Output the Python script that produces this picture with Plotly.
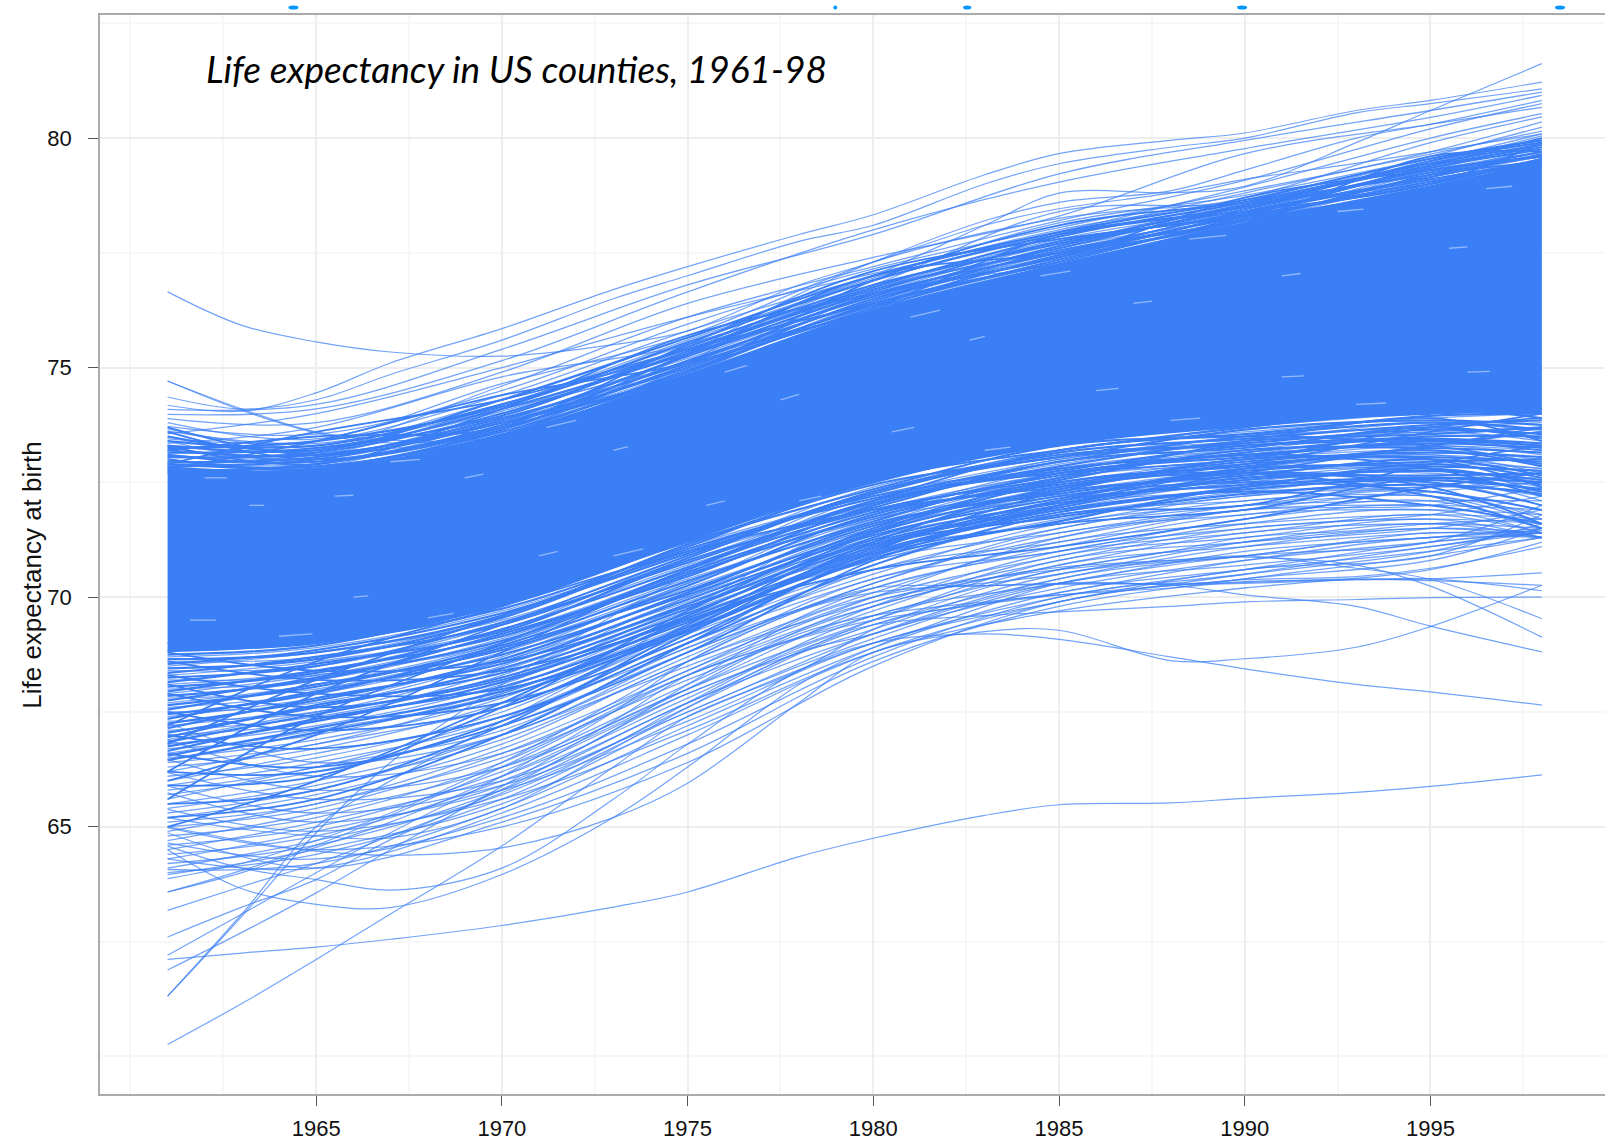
import plotly.graph_objects as go

YEARS = [1961, 1965, 1970, 1975, 1980, 1985, 1990, 1995, 1998]
YEARS_FINE = [1961, 1963, 1965, 1967, 1970, 1973, 1975, 1978, 1980, 1983, 1985, 1988, 1990, 1993, 1995, 1998]

CORE_UPPER = [72.85, 72.8, 73.55, 74.85, 76.25, 77.25, 78.15, 78.95, 79.45]
CORE_LOWER = [68.8, 69.0, 69.8, 71.2, 72.5, 73.3, 73.7, 74.0, 74.0]

OUTLIERS = [
    [62.11,62.25,62.38,62.55,62.85,63.25,63.58,64.35,64.75,65.25,65.48,65.52,65.62,65.75,65.88,66.13],
    [76.65,75.92,75.56,75.34,75.25,75.50,75.80,76.80,77.30,78.10,78.46,78.80,79.10,79.45,79.70,80.09],
    [60.26,61.15,62.11,63.10,64.58,66.30,67.40,68.40,69.30,70.20,70.60,71.00,71.30,71.45,71.60,71.70],
    [61.31,63.05,64.87,66.40,68.10,69.60,70.50,71.70,72.30,72.90,73.20,73.50,73.70,73.90,74.00,74.00],
    [61.31,63.10,65.00,66.00,67.30,68.60,69.70,71.10,71.70,72.40,72.70,73.00,73.10,73.40,73.40,73.30],
    [64.50,63.65,63.31,63.24,63.96,65.20,66.30,68.10,68.90,69.80,70.30,70.70,70.90,71.20,71.30,71.45],
    [64.58,64.10,63.85,63.62,64.10,65.60,66.80,68.40,69.00,69.20,69.08,68.70,68.44,68.10,67.94,67.65],
    [65.00,64.70,64.47,64.38,64.54,65.20,65.95,67.70,68.80,69.25,69.28,68.62,68.66,68.91,69.36,70.26],
    [62.20,63.10,64.00,64.87,66.10,67.50,68.60,69.70,70.20,70.25,70.30,70.26,70.05,69.80,69.37,68.81],
    [61.88,62.70,63.56,64.50,65.88,67.30,68.30,69.30,69.80,70.40,70.65,70.80,70.87,70.70,70.24,69.13],
    [62.60,63.25,63.85,64.72,65.81,67.10,68.10,69.50,70.00,70.40,70.60,70.80,70.90,70.63,70.39,69.53],
    [63.18,63.70,64.20,64.80,65.74,66.80,67.70,68.90,69.40,69.60,69.68,69.80,69.90,69.95,69.99,70.00],
    [63.58,64.00,64.55,65.10,66.10,67.20,68.00,69.20,69.60,69.90,70.05,70.20,70.34,70.38,70.40,70.53],
    [63.58,64.05,64.60,65.25,66.30,67.50,68.30,69.10,69.50,69.85,70.05,70.25,70.38,70.45,70.63,71.10],
    [65.20,64.95,64.80,64.76,65.40,66.70,67.60,68.80,69.20,69.95,70.30,70.28,70.30,70.38,70.40,70.14],
    [63.87,64.20,64.70,65.30,66.40,67.70,68.60,69.70,70.10,70.25,70.28,70.30,70.32,70.40,70.36,70.26],
    [74.71,74.10,73.60,73.42,73.50,74.30,75.10,76.40,77.00,78.10,78.80,78.81,78.95,79.90,80.60,81.62],
    [74.71,74.07,73.58,73.36,73.60,74.50,75.30,76.60,77.30,78.20,78.60,78.85,79.30,80.00,80.30,80.82],
    [74.18,74.05,74.45,75.10,75.85,76.70,77.20,77.90,78.33,79.20,79.66,79.95,80.11,80.60,80.82,81.22],
    [74.36,74.10,74.30,74.85,75.60,76.50,77.00,77.75,78.10,79.00,79.44,79.80,80.00,80.55,80.75,81.07],
]

UPPER_ZONE = [
    [74.09,74.20,75.40,76.80,77.90,79.22,79.95,80.60,81.00],
    [73.98,74.10,75.15,76.65,78.00,79.04,79.77,80.45,80.93],
    [73.89,73.80,74.90,76.40,77.40,78.30,79.66,80.30,80.67],
    [73.67,73.30,74.60,76.10,77.20,78.20,79.08,80.20,80.75],
    [73.56,74.00,75.00,76.10,77.05,77.95,78.93,80.00,80.53],
    [73.45,73.40,74.40,75.80,77.00,78.00,78.70,79.90,80.46],
    [73.35,73.70,74.80,75.50,76.90,77.90,78.80,79.70,80.35],
    [73.20,73.10,74.20,75.50,76.80,78.40,78.60,79.60,80.24],
    [73.05,73.20,74.30,75.30,76.70,77.80,78.50,79.50,80.09],
    [72.91,73.00,74.00,75.20,76.60,77.70,78.40,79.40,80.00],
    [73.30,73.30,74.10,75.10,76.50,77.60,78.30,79.30,79.90],
    [73.10,73.05,73.90,75.00,76.40,77.50,78.20,79.20,79.80],
    [73.50,73.15,73.80,75.25,76.55,77.45,78.45,79.30,79.70],
    [73.40,72.95,73.75,75.05,76.35,77.35,78.35,79.15,79.60],
    [72.95,72.90,73.70,74.95,76.30,77.30,78.25,79.05,79.55],
    [73.25,73.00,73.65,74.90,76.45,77.40,78.15,79.10,79.50],
    [72.85,73.10,73.60,75.15,76.25,77.65,78.55,79.00,79.45],
    [73.00,72.85,73.85,74.85,76.60,77.25,78.10,79.25,79.40],
    [73.62,73.35,74.20,75.60,76.95,78.15,78.75,79.55,79.95],
    [73.72,73.55,74.50,75.95,77.15,78.05,78.85,79.65,80.15],
    [73.80,73.45,74.65,75.70,77.30,78.25,78.65,79.45,80.05],
    [73.15,73.25,74.05,75.40,76.75,77.55,78.40,79.35,79.85],
]

NEAR_UPPER = [
    [72.70,72.80,73.60,74.85,76.25,77.25,78.15,78.95,79.45],
    [72.90,72.85,73.55,74.95,76.30,77.35,78.20,78.90,79.50],
    [72.75,72.90,73.70,74.90,76.40,77.30,78.25,79.05,79.45],
    [73.00,72.80,73.65,75.05,76.35,77.45,78.30,79.00,79.55],
    [72.85,73.00,73.80,75.00,76.50,77.40,78.35,79.10,79.50],
    [73.10,72.95,73.75,75.15,76.45,77.55,78.20,79.20,79.60],
    [72.95,73.05,73.90,75.10,76.60,77.50,78.40,79.15,79.65],
    [73.20,73.10,73.85,75.25,76.55,77.65,78.45,79.30,79.60],
    [73.05,73.15,74.00,75.35,76.70,77.60,78.50,79.25,79.70],
    [73.30,73.20,74.10,75.30,76.65,77.75,78.35,79.35,79.75],
    [73.15,73.25,73.95,75.45,76.80,77.70,78.55,79.40,79.80],
    [73.40,73.30,74.20,75.40,76.75,77.85,78.60,79.45,79.85],
    [73.25,73.40,74.15,75.55,76.90,77.90,78.50,79.50,79.90],
    [73.50,73.20,74.30,75.65,77.00,77.95,78.65,79.55,79.95],
]

CROSSING_UPPER = [
    [72.90,73.60,74.30,75.40,76.40,77.30,78.30,79.40,80.00],
    [73.60,73.00,73.70,75.50,77.10,77.80,78.30,79.00,79.50],
    [73.30,72.90,74.10,75.70,76.60,77.40,78.70,79.30,79.60],
    [72.80,73.40,74.40,75.10,76.30,77.90,78.40,79.00,79.90],
    [73.70,73.10,73.80,74.90,76.90,78.10,78.60,79.20,79.50],
    [73.20,73.50,73.70,75.30,77.00,77.50,78.20,79.60,79.70],
]

LOWER_ZONE = [
    [68.7,68.9,69.7,71.0,72.3,73.2,73.6,73.9,74.0],
    [68.6,68.7,69.6,71.1,72.2,73.0,73.5,73.7,73.8],
    [68.5,68.8,69.5,70.9,72.4,73.1,73.4,73.8,73.6],
    [68.4,68.5,69.4,70.8,72.1,72.9,73.4,73.6,73.7],
    [68.3,68.6,69.3,70.9,72.0,73.0,73.3,73.5,73.5],
    [68.2,68.3,69.2,70.6,72.2,72.8,73.2,73.6,73.4],
    [68.1,68.4,69.3,70.7,71.9,72.7,73.1,73.4,73.3],
    [68.0,68.2,69.1,70.5,71.8,72.8,73.2,73.3,73.2],
    [67.9,68.3,69.0,70.6,71.7,72.6,73.0,73.3,73.1],
    [67.8,68.0,68.9,70.3,71.9,72.5,73.0,73.2,73.0],
    [67.7,68.1,69.0,70.4,71.6,72.6,72.9,73.1,72.9],
    [67.6,67.9,68.8,70.2,71.5,72.4,72.9,73.0,72.8],
    [67.5,67.7,68.7,70.3,71.7,72.3,72.8,73.1,72.7],
    [67.4,67.8,68.6,70.1,71.4,72.5,72.7,72.9,72.6],
    [67.3,67.5,68.5,70.0,71.5,72.2,72.7,72.8,72.5],
    [67.2,67.6,68.6,69.9,71.3,72.3,72.6,72.9,72.8],
    [67.1,67.4,68.3,70.0,71.2,72.1,72.6,72.7,72.4],
    [67.0,67.3,68.4,69.8,71.3,72.0,72.5,72.8,72.3],
    [66.9,67.5,68.2,69.7,71.1,72.2,72.4,72.6,72.6],
    [66.8,67.2,68.1,69.8,71.0,71.9,72.5,72.5,72.2],
    [66.7,67.0,68.0,69.6,71.2,71.8,72.3,72.6,72.1],
    [66.6,67.1,67.9,69.5,70.9,72.0,72.3,72.4,72.5],
    [66.5,66.9,67.8,69.6,70.8,71.7,72.2,72.5,72.0],
    [66.4,66.8,67.9,69.4,71.0,71.6,72.2,72.3,71.9],
    [66.3,66.7,67.7,69.3,70.7,71.8,72.1,72.4,72.3],
    [66.2,66.8,67.6,69.2,70.6,71.5,72.1,72.2,71.8],
    [66.1,66.5,67.5,69.3,70.8,71.4,72.0,72.3,71.7],
    [66.0,66.6,67.4,69.1,70.5,71.6,72.0,72.1,72.1],
    [65.9,66.4,67.3,69.0,70.4,71.3,71.9,72.2,71.6],
    [65.8,66.3,67.4,68.9,70.6,71.2,71.9,72.0,71.9],
    [65.7,66.2,67.2,68.8,70.3,71.4,71.8,72.1,71.5],
    [65.6,66.3,67.1,68.9,70.2,71.1,71.8,71.9,71.8],
    [65.5,66.0,67.0,68.7,70.4,71.0,71.7,72.0,71.5],
    [65.4,65.9,66.9,68.6,70.1,71.2,71.6,71.8,71.7],
    [65.3,65.8,67.0,68.5,70.0,70.9,71.6,71.9,71.4],
    [65.2,65.7,66.8,68.6,69.9,70.8,71.5,71.7,71.6],
    [65.1,65.5,66.7,68.4,70.2,71.0,71.4,71.8,71.4],
    [65.0,65.4,66.6,68.3,69.8,70.7,71.4,71.6,71.5],
    [64.9,65.5,66.5,68.2,69.7,70.9,71.3,71.7,71.3],
    [64.8,65.2,66.4,68.3,69.6,70.6,71.2,71.5,71.4],
    [64.7,65.3,66.3,68.1,69.9,70.5,71.2,71.6,71.3],
    [64.6,65.0,66.2,68.0,69.5,70.7,71.1,71.4,71.4],
    [64.5,65.1,66.1,67.9,69.4,70.4,71.1,71.5,71.3],
    [64.4,64.8,66.0,67.8,69.6,70.3,71.0,71.3,71.5],
    [64.3,64.9,65.9,67.9,69.3,70.5,70.9,71.4,71.3],
    [64.2,64.6,65.8,67.7,69.2,70.2,70.8,71.2,71.4],
    [64.1,64.7,65.7,67.6,69.4,70.1,70.8,71.3,71.3],
    [64.0,64.4,65.6,67.5,69.1,70.3,70.7,71.1,71.5],
    [63.96,64.5,65.5,67.4,69.0,70.0,70.6,71.2,71.4],
    [64.07,64.2,65.4,67.2,68.9,70.1,70.6,71.0,71.3],
    [64.30,64.1,65.3,67.0,68.8,69.9,70.5,71.1,71.4],
    [64.65,64.3,65.2,66.8,68.7,70.0,70.5,71.0,71.6],
    [64.87,64.1,65.1,66.6,68.6,69.8,70.4,70.9,71.3],
    [64.98,64.5,65.0,66.4,68.5,69.9,70.4,70.8,71.5],
    [65.38,64.9,65.6,67.1,68.8,69.7,70.2,70.6,71.2],
    [65.74,65.1,65.8,67.3,69.0,69.9,70.6,70.9,71.8],
    [65.89,65.3,65.9,67.5,69.2,70.4,70.9,71.2,72.0],
    [66.18,65.6,66.0,67.7,69.5,70.8,71.2,71.5,71.9],
    [66.47,65.8,66.3,68.0,69.8,71.0,71.5,71.8,72.2],
    [66.90,66.1,66.6,68.4,70.0,71.3,71.9,72.0,72.4],
    [67.26,66.4,67.0,68.8,70.3,71.5,72.0,72.3,72.5],
]

NEAR_LOWER = [
    [69.00,69.10,69.90,71.30,72.50,73.40,73.80,74.00,74.10],
    [68.85,69.00,69.75,71.10,72.55,73.20,73.70,74.10,73.90],
    [68.75,68.95,69.85,71.20,72.35,73.30,73.55,73.95,74.00],
    [68.65,68.80,69.60,71.15,72.45,73.05,73.65,73.85,73.75],
    [68.55,68.85,69.65,70.95,72.25,73.15,73.45,73.75,73.85],
    [68.45,68.65,69.55,71.05,72.15,72.95,73.50,73.80,73.65],
    [68.35,68.70,69.40,70.85,72.30,73.05,73.35,73.65,73.55],
    [68.25,68.50,69.45,70.75,72.05,72.85,73.40,73.55,73.70],
    [68.15,68.55,69.25,70.80,71.95,72.95,73.25,73.70,73.45],
    [68.05,68.35,69.30,70.65,72.10,72.75,73.30,73.45,73.35],
    [67.95,68.40,69.15,70.55,71.85,72.65,73.15,73.50,73.50],
    [67.85,68.20,69.20,70.45,72.00,72.80,73.10,73.35,73.25],
    [67.75,68.25,69.05,70.50,71.75,72.55,73.20,73.25,73.15],
    [67.65,68.05,68.95,70.35,71.65,72.70,73.05,73.40,73.30],
    [67.55,68.10,68.85,70.25,71.80,72.45,72.95,73.15,73.05],
    [67.45,67.90,68.90,70.15,71.55,72.35,73.00,73.05,72.95],
    [67.35,67.95,68.75,70.05,71.45,72.50,72.85,73.20,72.85],
    [67.25,67.75,68.65,70.10,71.60,72.25,72.75,72.95,73.00],
    [67.15,67.80,68.55,69.95,71.35,72.15,72.80,72.85,72.75],
    [67.05,67.60,68.45,69.85,71.40,72.30,72.65,73.00,72.65],
    [66.95,67.65,68.35,69.75,71.25,72.05,72.55,72.75,72.55],
    [66.85,67.45,68.25,69.65,71.15,71.95,72.60,72.65,72.70],
    [66.75,67.30,68.15,69.55,71.05,72.10,72.45,72.80,72.45],
    [66.65,67.35,68.05,69.45,70.95,71.85,72.35,72.55,72.35],
    [66.55,67.15,67.95,69.35,71.10,71.75,72.25,72.45,72.25],
    [66.45,67.05,67.85,69.25,70.85,71.65,72.40,72.60,72.50],
]

CROSSING_LOWER = [
    [66.2,67.9,69.4,70.9,72.3,73.1,73.3,73.4,73.2],
    [66.8,68.2,69.6,71.0,72.2,72.7,73.0,73.7,73.9],
    [67.2,68.6,69.8,71.0,71.9,72.4,72.9,73.6,74.0],
    [65.6,67.4,69.0,70.6,72.1,73.2,73.5,73.3,72.9],
    [66.0,67.0,68.8,70.6,71.9,72.6,73.4,73.9,73.4],
    [68.8,68.4,68.6,69.8,71.2,72.0,72.7,73.3,73.6],
    [68.6,68.2,68.4,69.5,71.0,71.9,72.4,72.9,72.6],
    [68.3,67.9,68.0,69.3,70.9,72.1,72.7,72.5,72.0],
    [67.9,67.4,67.7,69.1,71.0,72.3,72.9,73.0,72.4],
    [68.1,67.6,68.2,69.6,71.4,72.6,73.1,72.8,72.2],
    [67.5,67.1,67.6,69.4,71.3,72.2,72.5,72.3,71.9],
    [67.0,66.7,67.4,69.0,70.7,71.8,72.0,72.9,73.3],
    [66.6,66.3,67.2,68.8,70.8,72.0,72.8,73.3,73.7],
    [66.2,66.2,67.3,69.2,71.2,72.4,72.7,72.4,71.6],
    [65.9,66.1,67.6,69.7,71.5,72.5,72.7,72.2,71.5],
    [65.5,65.8,67.2,69.3,71.1,71.9,72.3,72.0,71.6],
    [65.2,65.6,67.0,69.0,70.9,71.6,71.9,72.6,72.3],
    [65.0,66.0,67.7,69.5,70.6,71.1,71.7,72.4,72.7],
]

# Small unpainted slivers scattered inside the solid band
GAP_X = [1962.0,1962.6,None,1963.2,1963.6,None,1965.5,1966.0,None,1967.0,1967.8,None,1969.0,1969.5,None,
         1971.2,1972.0,None,1973.0,1973.4,None,1976.0,1976.6,None,1977.5,1978.0,None,1981.0,1981.8,None,
         1982.6,1983.0,None,1984.5,1985.3,None,1987.0,1987.5,None,1988.5,1989.5,None,1991.0,1991.5,None,
         1992.5,1993.2,None,1995.5,1996.0,None,1996.5,1997.2,None,
         1961.6,1962.3,None,1964.0,1964.9,None,1966.0,1966.4,None,1968.0,1968.7,None,1971.0,1971.5,None,
         1973.0,1973.8,None,1975.5,1976.0,None,1978.0,1978.6,None,1980.5,1981.1,None,1983.0,1983.7,None,
         1986.0,1986.6,None,1988.0,1988.8,None,1991.0,1991.6,None,1993.0,1993.8,None,1996.0,1996.6]
GAP_Y = [72.6,72.6,None,72.0,72.0,None,72.2,72.22,None,72.95,73.0,None,72.6,72.68,None,
         73.7,73.85,None,73.2,73.28,None,74.9,75.05,None,74.3,74.42,None,76.1,76.25,None,
         75.6,75.68,None,77.0,77.1,None,76.4,76.45,None,77.8,77.88,None,77.0,77.05,None,
         78.4,78.45,None,77.6,77.63,None,78.9,78.95,None,
         69.5,69.5,None,69.15,69.2,None,70.0,70.03,None,69.55,69.65,None,70.9,71.0,None,
         70.9,71.05,None,72.0,72.1,None,72.1,72.2,None,73.6,73.7,None,73.2,73.27,None,
         74.5,74.55,None,73.85,73.9,None,74.8,74.82,None,74.2,74.23,None,74.9,74.92]

X_TICKS = [1965, 1970, 1975, 1980, 1985, 1990, 1995]
X_MINOR = [1960, 1962.5, 1967.5, 1972.5, 1977.5, 1982.5, 1987.5, 1992.5, 1997.5]
Y_TICKS = [65, 70, 75, 80]
Y_MINOR = [60, 62.5, 67.5, 72.5, 77.5, 82.5]
TOP_BITS = [(293, 10), (835, 4), (967, 8), (1242, 10), (1560, 10)]

BLUE = "#3B7FF6"
LINE = "rgba(59,127,246,0.72)"
W, H = 1605, 1141
L, T, B = 99.5, 14.5, 47

fig = go.Figure()
fig.add_trace(go.Scatter(x=YEARS, y=CORE_LOWER, mode="lines", line=dict(width=0, shape="spline", color=BLUE),
                         showlegend=False, hoverinfo="skip"))
fig.add_trace(go.Scatter(x=YEARS, y=CORE_UPPER, mode="lines", line=dict(width=0, shape="spline", color=BLUE),
                         fill="tonexty", fillcolor=BLUE, showlegend=False, hoverinfo="skip"))
for series in NEAR_UPPER + NEAR_LOWER:
    fig.add_trace(go.Scatter(x=YEARS, y=series, mode="lines", showlegend=False,
                             line=dict(color=BLUE, width=2.2, shape="spline")))
for series in CROSSING_UPPER + CROSSING_LOWER:
    fig.add_trace(go.Scatter(x=YEARS, y=series, mode="lines", showlegend=False,
                             line=dict(color=BLUE, width=1.8, shape="spline")))
for series in UPPER_ZONE + LOWER_ZONE:
    fig.add_trace(go.Scatter(x=YEARS, y=series, mode="lines", showlegend=False,
                             line=dict(color=LINE, width=1.3, shape="spline")))
for series in OUTLIERS:
    fig.add_trace(go.Scatter(x=YEARS_FINE, y=series, mode="lines", showlegend=False,
                             line=dict(color=LINE, width=1.2, shape="spline")))
fig.add_trace(go.Scatter(x=GAP_X, y=GAP_Y, mode="lines", showlegend=False, hoverinfo="skip",
                         line=dict(color="rgba(255,255,255,0.45)", width=1.3)))

fig.update_layout(
    width=W, height=H, margin=dict(l=L, r=0, t=T, b=B, pad=0, autoexpand=False),
    paper_bgcolor="white", plot_bgcolor="white", showlegend=False,
    font=dict(family="Liberation Sans", size=22, color="#111111"),
    xaxis=dict(range=[1959.18, 1999.7], tickmode="array", tickvals=X_TICKS, ticks="outside", ticklen=10,
               tickwidth=1, tickcolor="#555555", showgrid=True, gridcolor="#EEEEEE", gridwidth=1.5,
               zeroline=False, showline=True, mirror=True, linecolor="#AAAAAA", linewidth=1.5,
               ticklabelstandoff=4,
               minor=dict(tickmode="array", tickvals=X_MINOR, showgrid=True, gridcolor="#F7F7F7", gridwidth=1.5, ticks="")),
    yaxis=dict(range=[59.18, 82.68], tickmode="array", tickvals=Y_TICKS, ticks="outside", ticklen=10,
               tickwidth=1, tickcolor="#555555", showgrid=True, gridcolor="#EEEEEE", gridwidth=1.5,
               zeroline=False, showline=True, linecolor="#AAAAAA", linewidth=1.5,
               ticklabelstandoff=12,
               minor=dict(tickmode="array", tickvals=Y_MINOR, showgrid=True, gridcolor="#F7F7F7", gridwidth=1.5, ticks="")),
    annotations=[
        dict(text="<i>Life expectancy in US counties, 1961-98</i>", xref="paper", yref="paper",
             x=(204 - L) / (W - L), y=(H - B - 68) / (H - B - T), xanchor="left", yanchor="middle",
             showarrow=False, font=dict(family="Lato", size=37, color="#000000")),
        dict(text="Life expectancy at birth", xref="paper", yref="paper", textangle=-90,
             x=(32 - L) / (W - L), y=(H - B - 575) / (H - B - T), xanchor="center", yanchor="middle",
             showarrow=False, font=dict(family="Liberation Sans", size=26, color="#111111")),
    ],
)
for cx, w in TOP_BITS:
    fig.add_shape(type="circle", xref="paper", yref="paper", fillcolor="#0096FF", line_width=0, layer="above",
                  x0=(cx - w / 2 - L) / (W - L), x1=(cx + w / 2 - L) / (W - L),
                  y0=(H - B - 9) / (H - B - T), y1=(H - B - 5) / (H - B - T))

fig.write_html("out.html", config=dict(displayModeBar=False),
               post_script="document.body.style.margin='0';document.body.style.overflow='hidden';")
